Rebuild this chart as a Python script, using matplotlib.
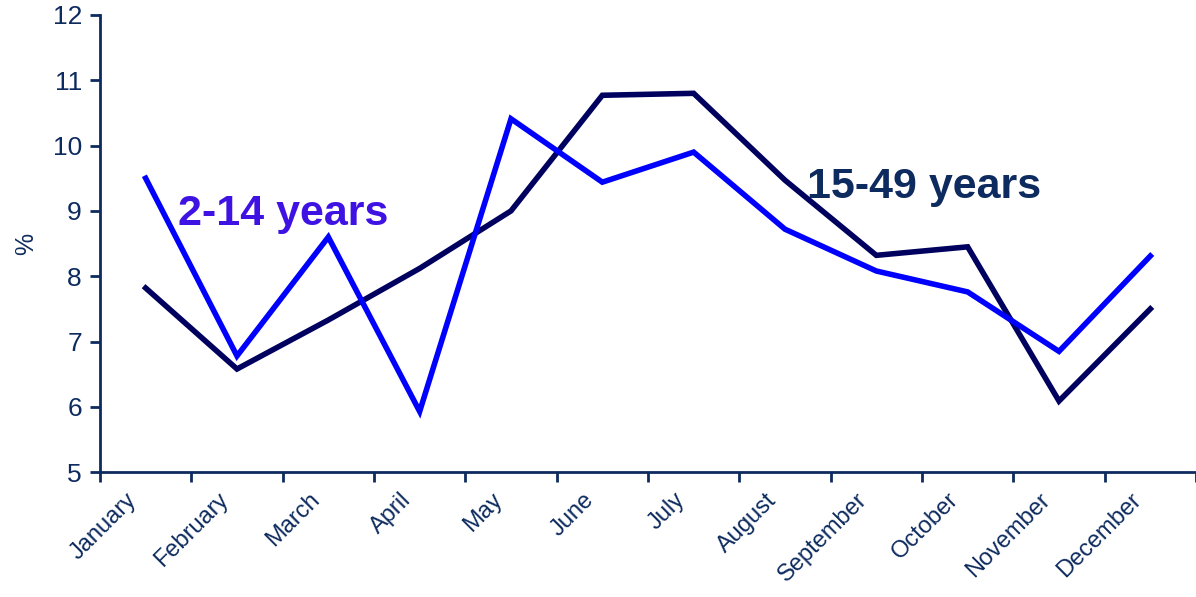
import matplotlib
matplotlib.use("Agg")
import matplotlib.pyplot as plt
import matplotlib.transforms as mtransforms
import numpy as np

months = ["January", "February", "March", "April", "May", "June", "July",
          "August", "September", "October", "November", "December"]
kids = [9.50, 6.78, 8.60, 5.93, 10.41, 9.44, 9.90, 8.72, 8.08, 7.76, 6.85, 8.31]
adults = [7.82, 6.58, 7.33, 8.12, 9.00, 10.77, 10.80, 9.47, 8.32, 8.45, 6.09, 7.50]

navy = "#0d2b5e"
plt.rcParams["font.family"] = ["Liberation Sans", "DejaVu Sans"]

fig = plt.figure(figsize=(11.96, 5.97), dpi=100)
ax = fig.add_axes([0.0836, 0.209, 0.9164, 0.766])

x = np.arange(len(months))
ax.plot(x, adults, color="#00005f", lw=4, solid_joinstyle="miter")
ax.plot(x, kids, color="#0000ff", lw=4, solid_joinstyle="miter")

ax.text(0.35, 8.78, "2-14 years", color="#3f12e4", fontsize=31,
        fontweight="bold", fontstretch="condensed",
        family=["Liberation Sans Narrow", "Liberation Sans"])
ax.text(7.24, 9.2, "15-49 years", color=navy, fontsize=31,
        fontweight="bold", fontstretch="condensed",
        family=["Liberation Sans Narrow", "Liberation Sans"])

ax.set_xlim(-0.5, 11.37)
ax.set_ylim(5, 12)
ax.set_yticks(range(5, 13))

# category ticks sit between months, labels under each month
ax.set_xticks(x)
ax.set_xticklabels(months, rotation=45, ha="right", rotation_mode="anchor",
                   fontsize=17, color=navy)
ax.set_xticks(np.arange(-0.5, 12, 1), minor=True)
ax.tick_params(axis="x", which="major", length=0, pad=12)
ax.tick_params(axis="x", which="minor", length=7, width=2, color=navy,
               direction="out")
ax.tick_params(axis="y", length=7, width=2, color=navy, labelsize=19,
               labelcolor=navy, pad=6)
shift = mtransforms.ScaledTranslation(-0.2, 0, fig.dpi_scale_trans)
for lab in ax.get_xticklabels():
    lab.set_transform(lab.get_transform() + shift)

ax.set_ylabel("%", color=navy, fontsize=18)
ax.yaxis.set_label_coords(-0.056, 0.5)

for side in ("top", "right"):
    ax.spines[side].set_visible(False)
for side in ("left", "bottom"):
    ax.spines[side].set_color(navy)
    ax.spines[side].set_linewidth(2)

fig.savefig("out.png", dpi=100)
